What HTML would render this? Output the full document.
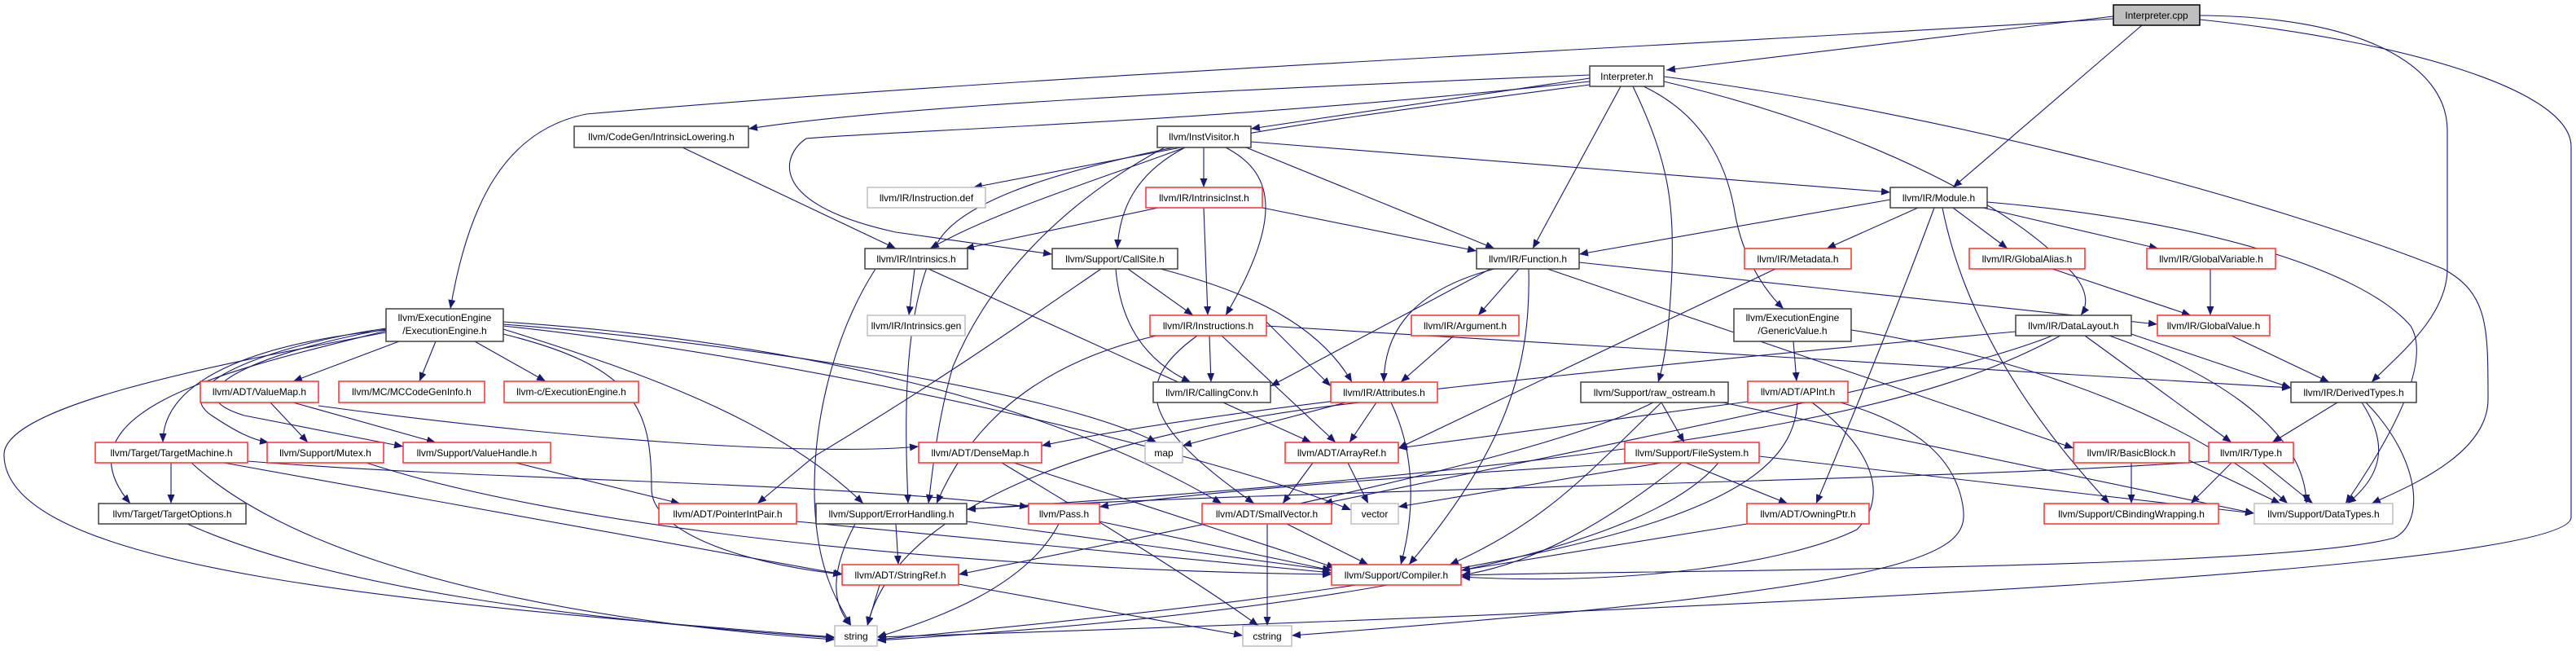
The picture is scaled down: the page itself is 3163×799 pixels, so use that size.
<!DOCTYPE html>
<html><head><meta charset="utf-8"><style>
html,body{margin:0;padding:0;background:#fff;}
svg{display:block;}
text{font-family:"Liberation Sans",sans-serif;font-size:12px;fill:#000;text-anchor:middle;}
.b{fill:#fff;stroke:#404040;stroke-width:1.5}
.r{fill:#fff;stroke:#ff3030;stroke-width:1.5}
.g{fill:#fff;stroke:#bfbfbf;stroke-width:1.5}
.e{fill:none;stroke:#191970;stroke-width:1.1;marker-end:url(#a)}
</style></head><body>
<svg width="3163" height="799" viewBox="0 0 3163 799" xmlns="http://www.w3.org/2000/svg">
<defs><marker id="a" markerUnits="userSpaceOnUse" markerWidth="12" markerHeight="10" refX="11" refY="4.5" orient="auto"><path d="M0,0 L11,4.5 L0,9 z" fill="#191970"/></marker></defs>
<g>
<path class="e" d="M2595,20 L2046,86"/>
<path class="e" d="M2630,31 L2398,230"/>
<path class="e" d="M2701,19 C2900,20 3005,80 3005,160 L3005,330 C3005,390 2940,440 2912,469"/>
<path class="e" d="M2701,24 C2950,50 3157,110 3157,180 L3157,635 C3157,690 2400,740 1077,782"/>
<path class="e" d="M2595,23 C2000,60 1300,90 720,140 C620,160 575,250 553,379"/>
<path class="e" d="M1952,92 C1500,110 1100,130 919,158"/>
<path class="e" d="M1952,96 L1536,158"/>
<path class="e" d="M1990,106 L1882,305"/>
<path class="e" d="M2005,106 C2050,200 2055,250 2053,330 C2050,400 2045,440 2036,469"/>
<path class="e" d="M2018,106 C2090,140 2120,200 2130,260 C2140,320 2170,360 2190,379"/>
<path class="e" d="M2043,100 C2300,160 2480,260 2540,330 C2570,360 2560,380 2555,387"/>
<path class="e" d="M2043,94 C2400,140 2800,250 3000,330 C3055,360 3055,400 3055,490 C3055,560 2950,600 2912,618"/>
<path class="e" d="M1952,100 C1500,150 1100,160 990,170 C960,190 940,250 1100,285 L1292,312"/>
<path class="e" d="M1952,104 C1600,150 1200,200 1150,300 C1110,380 1110,500 1115,618"/>
<path class="e" d="M1450,181 L1195,230"/>
<path class="e" d="M1455,181 C1350,220 1220,260 1142,305"/>
<path class="e" d="M1455,181 C1400,210 1375,250 1372,305"/>
<path class="e" d="M1478,181 L1478,230"/>
<path class="e" d="M1505,181 C1560,210 1580,260 1505,387"/>
<path class="e" d="M1530,181 L1835,305"/>
<path class="e" d="M1536,174 L2321,236"/>
<path class="e" d="M1430,181 C1320,240 1220,330 1170,450 C1150,520 1145,580 1140,618"/>
<path class="e" d="M1422,255 L1185,305"/>
<path class="e" d="M1478,255 L1483,387"/>
<path class="e" d="M1550,255 L1813,308"/>
<path class="e" d="M1123,330 L1116,387"/>
<path class="e" d="M1140,330 L1610,543"/>
<path class="e" d="M1075,330 C1030,400 1000,500 1000,600 C1000,700 1030,740 1045,768"/>
<path class="e" d="M1385,330 L1465,387"/>
<path class="e" d="M1370,330 C1375,390 1400,440 1462,469"/>
<path class="e" d="M1425,330 C1540,360 1620,400 1660,469"/>
<path class="e" d="M1352,330 C1250,400 1150,470 1000,560 L930,618"/>
<path class="e" d="M1865,330 L1815,387"/>
<path class="e" d="M1835,330 C1720,360 1700,420 1699,469"/>
<path class="e" d="M1830,330 L1560,474"/>
<path class="e" d="M1877,330 C1880,450 1850,550 1730,693"/>
<path class="e" d="M1939,322 L2649,398"/>
<path class="e" d="M1900,330 L2546,550"/>
<path class="e" d="M2321,245 L1939,312"/>
<path class="e" d="M2355,255 L2243,305"/>
<path class="e" d="M2398,255 L2465,305"/>
<path class="e" d="M2435,255 L2650,305"/>
<path class="e" d="M2375,255 C2340,350 2280,500 2230,618"/>
<path class="e" d="M2385,255 C2410,380 2480,500 2590,618"/>
<path class="e" d="M2440,248 C2700,270 2900,330 2960,400 C2990,450 2920,560 2880,618"/>
<path class="e" d="M2180,330 L1717,550"/>
<path class="e" d="M2520,330 L2690,387"/>
<path class="e" d="M2714,330 L2714,387"/>
<path class="e" d="M2740,412 L2860,469"/>
<path class="e" d="M2202,419 L2206,468"/>
<path class="e" d="M2273,405 C2500,440 2700,520 2809,618"/>
<path class="e" d="M2617,410 L2813,476"/>
<path class="e" d="M2560,412 L2740,543"/>
<path class="e" d="M2590,412 C2700,450 2830,520 2832,618"/>
<path class="e" d="M2475,407 C2000,450 1500,500 1279,547"/>
<path class="e" d="M2520,412 C2400,460 2100,520 1625,618"/>
<path class="e" d="M2530,412 C2400,480 2200,560 1187,625"/>
<path class="e" d="M2146,493 L1717,550"/>
<path class="e" d="M2207,494 C2200,620 2000,700 1077,785"/>
<path class="e" d="M2225,494 C2300,550 2320,610 2280,650 C2200,690 2000,720 1794,708"/>
<path class="e" d="M2260,494 C2350,520 2400,560 2410,620 C2420,680 2380,720 1586,780"/>
<path class="e" d="M1785,412 L1720,469"/>
<path class="e" d="M1485,412 L1487,469"/>
<path class="e" d="M1555,395 L1634,474"/>
<path class="e" d="M1500,412 L1640,543"/>
<path class="e" d="M1470,412 C1390,470 1400,520 1540,618"/>
<path class="e" d="M1420,412 C1300,440 1200,500 1150,618"/>
<path class="e" d="M1555,400 L2813,476"/>
<path class="e" d="M1690,494 L1657,543"/>
<path class="e" d="M1708,494 C1735,550 1740,620 1720,693"/>
<path class="e" d="M1652,494 L1452,547"/>
<path class="e" d="M1670,494 C1350,530 1100,620 1065,768"/>
<path class="e" d="M2040,494 L2068,543"/>
<path class="e" d="M2040,494 C1950,580 1900,640 1780,693"/>
<path class="e" d="M2030,494 C1900,560 1500,640 1177,705"/>
<path class="e" d="M2115,494 L2768,630"/>
<path class="e" d="M2070,568 L2195,618"/>
<path class="e" d="M2040,568 L1717,622"/>
<path class="e" d="M2065,568 C2000,620 1900,690 1794,706"/>
<path class="e" d="M2010,568 C1800,580 1500,600 1350,622"/>
<path class="e" d="M2160,560 L2768,630"/>
<path class="e" d="M2110,568 C2000,700 1500,760 1077,786"/>
<path class="e" d="M2617,568 L2617,618"/>
<path class="e" d="M2688,565 L2800,618"/>
<path class="e" d="M2740,568 L2690,618"/>
<path class="e" d="M2778,568 L2840,618"/>
<path class="e" d="M2712,566 C2400,590 1600,600 1187,625"/>
<path class="e" d="M2870,494 L2790,543"/>
<path class="e" d="M2900,494 C2930,540 2930,580 2882,618"/>
<path class="e" d="M2905,494 C2970,560 2980,640 2940,660 C2800,700 2000,700 1794,706"/>
<path class="e" d="M1655,568 L1680,618"/>
<path class="e" d="M1612,568 L1575,618"/>
<path class="e" d="M1556,643 L1556,768"/>
<path class="e" d="M1580,643 L1680,693"/>
<path class="e" d="M1245,568 L1640,697"/>
<path class="e" d="M1230,568 C1350,640 1480,720 1545,768"/>
<path class="e" d="M1100,643 L1103,693"/>
<path class="e" d="M1050,643 C1020,700 1020,740 1045,768"/>
<path class="e" d="M1187,640 L1635,700"/>
<path class="e" d="M1080,718 L1065,768"/>
<path class="e" d="M1177,717 L1526,780"/>
<path class="e" d="M1300,643 C1260,720 1150,760 1077,782"/>
<path class="e" d="M1350,640 L1635,700"/>
<path class="e" d="M2145,643 L1794,700"/>
<path class="e" d="M978,640 L1635,703"/>
<path class="e" d="M230,643 C400,720 700,760 1025,783"/>
<path class="e" d="M210,568 L210,618"/>
<path class="e" d="M235,568 C400,720 800,770 1025,785"/>
<path class="e" d="M275,568 L1035,705"/>
<path class="e" d="M304,566 C600,590 1000,590 1263,622"/>
<path class="e" d="M450,568 C700,650 1200,700 1635,705"/>
<path class="e" d="M633,568 L835,618"/>
<path class="e" d="M332,494 L378,543"/>
<path class="e" d="M360,494 L535,543"/>
<path class="e" d="M391,498 C700,540 1000,560 1128,548"/>
<path class="e" d="M490,419 L360,468"/>
<path class="e" d="M535,419 L515,468"/>
<path class="e" d="M583,419 L670,468"/>
<path class="e" d="M474,405 C330,420 200,460 200,543"/>
<path class="e" d="M474,403 C350,420 200,470 260,510 C290,530 310,540 330,543"/>
<path class="e" d="M474,404 C330,430 200,480 300,510 L495,548"/>
<path class="e" d="M474,406 C300,450 60,500 160,618"/>
<path class="e" d="M474,408 C250,450 0,500 5,560 C10,700 500,740 1025,782"/>
<path class="e" d="M618,398 C900,420 1300,480 1420,543"/>
<path class="e" d="M618,404 C800,460 960,520 1060,618"/>
<path class="e" d="M618,410 C780,450 800,500 800,600 C800,650 900,690 1034,705"/>
<path class="e" d="M618,395 C1000,420 1300,500 1500,618"/>
<path class="e" d="M618,400 C1000,440 1500,560 1659,626"/>
<path class="e" d="M838,181 L1100,305"/>
</g>
<g>
<rect x="2595" y="6" width="106" height="25" fill="#bfbfbf" stroke="#000" stroke-width="1.5"/><text x="2648" y="23">Interpreter.cpp</text>
<rect class="b" x="1952" y="81" width="91" height="25"/><text x="1997.5" y="98">Interpreter.h</text>
<rect class="b" x="705" y="155" width="214" height="26"/><text x="812" y="172">llvm/CodeGen/IntrinsicLowering.h</text>
<rect class="b" x="1421" y="155" width="115" height="26"/><text x="1478.5" y="172">llvm/InstVisitor.h</text>
<rect class="g" x="1065" y="230" width="145" height="25"/><text x="1137.5" y="247">llvm/IR/Instruction.def</text>
<rect class="r" x="1407" y="230" width="143" height="25"/><text x="1478.5" y="247">llvm/IR/IntrinsicInst.h</text>
<rect class="b" x="2321" y="230" width="119" height="25"/><text x="2380.5" y="247">llvm/IR/Module.h</text>
<rect class="b" x="1062" y="305" width="126" height="25"/><text x="1125" y="322">llvm/IR/Intrinsics.h</text>
<rect class="b" x="1292" y="305" width="154" height="25"/><text x="1369" y="322">llvm/Support/CallSite.h</text>
<rect class="b" x="1813" y="305" width="126" height="25"/><text x="1876" y="322">llvm/IR/Function.h</text>
<rect class="r" x="2142" y="305" width="131" height="25"/><text x="2207.5" y="322">llvm/IR/Metadata.h</text>
<rect class="r" x="2418" y="305" width="142" height="25"/><text x="2489" y="322">llvm/IR/GlobalAlias.h</text>
<rect class="r" x="2636" y="305" width="158" height="25"/><text x="2715" y="322">llvm/IR/GlobalVariable.h</text>
<rect class="b" x="474" y="379" width="144" height="40"/><text x="546" y="394">llvm/ExecutionEngine</text><text x="546" y="410">/ExecutionEngine.h</text>
<rect class="g" x="1065" y="387" width="120" height="25"/><text x="1125" y="404">llvm/IR/Intrinsics.gen</text>
<rect class="r" x="1412" y="387" width="143" height="25"/><text x="1483.5" y="404">llvm/IR/Instructions.h</text>
<rect class="r" x="1733" y="387" width="132" height="25"/><text x="1799" y="404">llvm/IR/Argument.h</text>
<rect class="b" x="2129" y="379" width="144" height="40"/><text x="2201" y="394">llvm/ExecutionEngine</text><text x="2201" y="410">/GenericValue.h</text>
<rect class="b" x="2475" y="387" width="142" height="25"/><text x="2546" y="404">llvm/IR/DataLayout.h</text>
<rect class="r" x="2649" y="387" width="138" height="25"/><text x="2718" y="404">llvm/IR/GlobalValue.h</text>
<rect class="r" x="246" y="468" width="145" height="26"/><text x="318.5" y="485">llvm/ADT/ValueMap.h</text>
<rect class="r" x="416" y="468" width="179" height="26"/><text x="505.5" y="485">llvm/MC/MCCodeGenInfo.h</text>
<rect class="r" x="619" y="468" width="165" height="26"/><text x="701.5" y="485">llvm-c/ExecutionEngine.h</text>
<rect class="b" x="1416" y="469" width="144" height="25"/><text x="1488" y="486">llvm/IR/CallingConv.h</text>
<rect class="r" x="1634" y="469" width="131" height="25"/><text x="1699.5" y="486">llvm/IR/Attributes.h</text>
<rect class="b" x="1941" y="469" width="181" height="25"/><text x="2031.5" y="486">llvm/Support/raw_ostream.h</text>
<rect class="r" x="2146" y="468" width="123" height="26"/><text x="2207.5" y="485">llvm/ADT/APInt.h</text>
<rect class="b" x="2813" y="469" width="154" height="25"/><text x="2890" y="486">llvm/IR/DerivedTypes.h</text>
<rect class="r" x="117" y="543" width="187" height="25"/><text x="210.5" y="560">llvm/Target/TargetMachine.h</text>
<rect class="r" x="328" y="543" width="143" height="25"/><text x="399.5" y="560">llvm/Support/Mutex.h</text>
<rect class="r" x="495" y="543" width="181" height="25"/><text x="585.5" y="560">llvm/Support/ValueHandle.h</text>
<rect class="r" x="1128" y="543" width="151" height="25"/><text x="1203.5" y="560">llvm/ADT/DenseMap.h</text>
<rect class="g" x="1406" y="543" width="46" height="25"/><text x="1429" y="560">map</text>
<rect class="r" x="1578" y="543" width="139" height="25"/><text x="1647.5" y="560">llvm/ADT/ArrayRef.h</text>
<rect class="r" x="1995" y="543" width="165" height="25"/><text x="2077.5" y="560">llvm/Support/FileSystem.h</text>
<rect class="r" x="2546" y="543" width="142" height="25"/><text x="2617" y="560">llvm/IR/BasicBlock.h</text>
<rect class="r" x="2712" y="543" width="104" height="25"/><text x="2764" y="560">llvm/IR/Type.h</text>
<rect class="b" x="121" y="618" width="181" height="25"/><text x="211.5" y="635">llvm/Target/TargetOptions.h</text>
<rect class="r" x="809" y="618" width="169" height="25"/><text x="893.5" y="635">llvm/ADT/PointerIntPair.h</text>
<rect class="b" x="1002" y="618" width="185" height="25"/><text x="1094.5" y="635">llvm/Support/ErrorHandling.h</text>
<rect class="r" x="1263" y="618" width="87" height="25"/><text x="1306.5" y="635">llvm/Pass.h</text>
<rect class="r" x="1476" y="618" width="159" height="25"/><text x="1555.5" y="635">llvm/ADT/SmallVector.h</text>
<rect class="g" x="1659" y="618" width="58" height="25"/><text x="1688" y="635">vector</text>
<rect class="r" x="2145" y="618" width="150" height="25"/><text x="2220" y="635">llvm/ADT/OwningPtr.h</text>
<rect class="r" x="2510" y="618" width="214" height="25"/><text x="2617" y="635">llvm/Support/CBindingWrapping.h</text>
<rect class="g" x="2768" y="618" width="170" height="25"/><text x="2853" y="635">llvm/Support/DataTypes.h</text>
<rect class="r" x="1034" y="693" width="143" height="25"/><text x="1105.5" y="710">llvm/ADT/StringRef.h</text>
<rect class="r" x="1635" y="693" width="159" height="25"/><text x="1714.5" y="710">llvm/Support/Compiler.h</text>
<rect class="g" x="1025" y="768" width="52" height="25"/><text x="1051" y="785">string</text>
<rect class="g" x="1526" y="768" width="60" height="25"/><text x="1556" y="785">cstring</text>
</g>
</svg>
</body></html>
